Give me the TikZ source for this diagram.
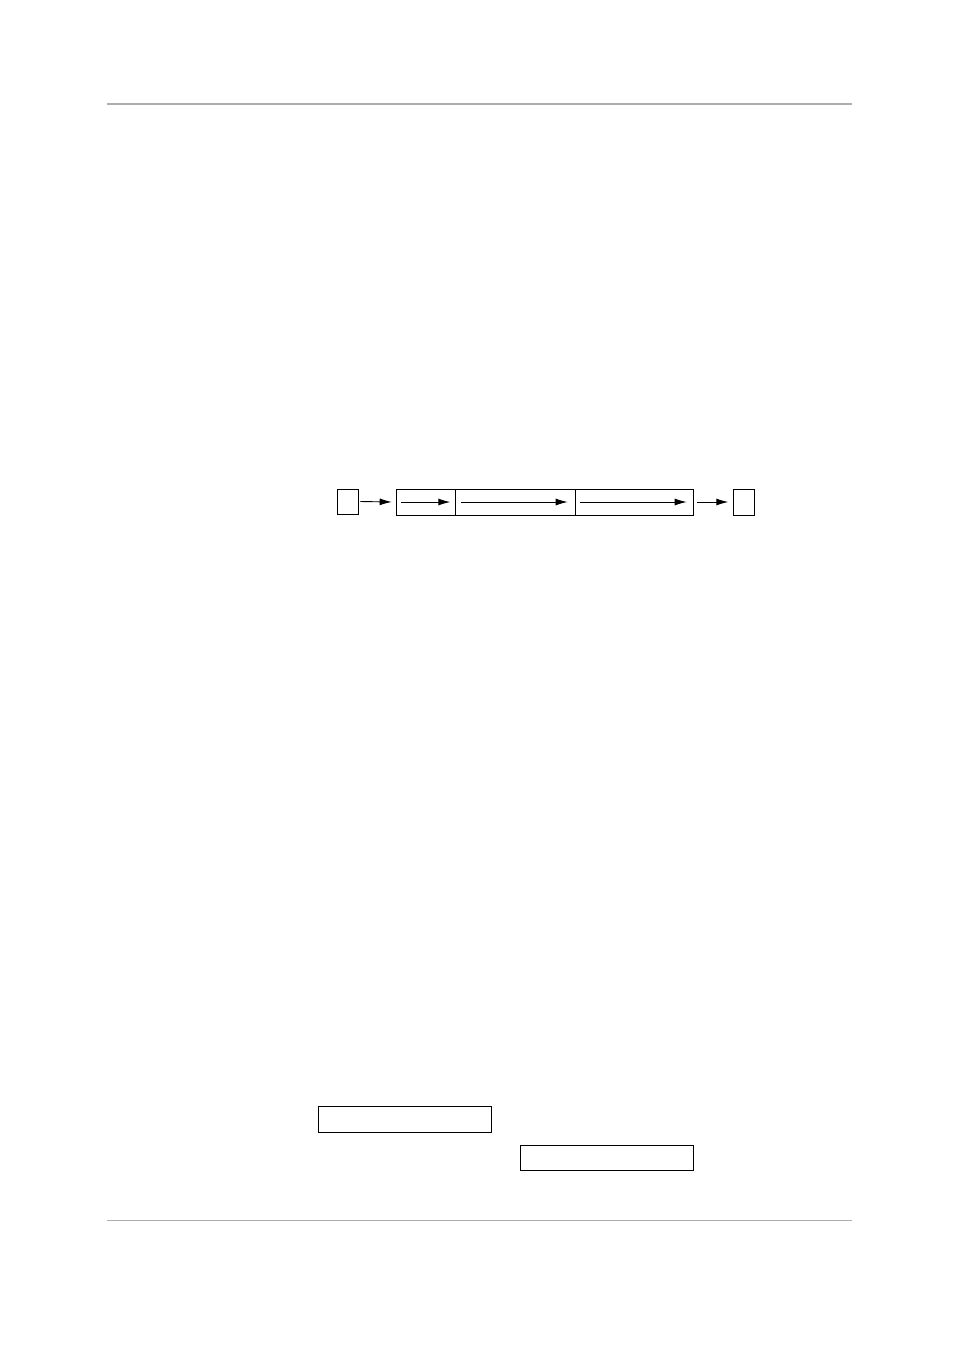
\documentclass[tikz,border=0pt]{standalone}
\usetikzlibrary{arrows.meta}
\begin{document}
\begin{tikzpicture}[x=1pt,y=-1pt,
  rule/.style={draw=black!32,line width=1.1pt},
  cell/.style={draw=black,line width=0.9pt,inner sep=0pt,outer sep=0pt,anchor=north west},
  arr/.style={draw=black,line width=0.9pt,-{Latex[length=12pt,width=7pt]}}]
\useasboundingbox (0,0) rectangle (954,1350);
% header / footer rules
\coordinate (tl) at (106.5,104);
\coordinate (tr) at (852,104);
\coordinate (bl) at (106.5,1220.3);
\coordinate (br) at (852,1220.3);
\draw[rule] (tl) -- (tr);
\draw[rule] (bl) -- (br);
% chain
\node[cell,minimum width=21pt,minimum height=25pt] (s1) at (337.3,489) {};
\node[cell,minimum width=58.6pt,minimum height=26pt] (c1) at (396.7,489) {};
\node[cell,minimum width=119.7pt,minimum height=26pt] (c2) at (455.3,489) {};
\node[cell,minimum width=118.3pt,minimum height=26pt] (c3) at (575,489) {};
\node[cell,minimum width=21pt,minimum height=26pt] (s2) at (733.3,489) {};
\draw[arr] ([xshift=2pt]s1.east) -- ([xshift=-5pt]c1.west);
\draw[arr] ([xshift=4.3pt]c1.west) -- ([xshift=-5pt]c1.east);
\draw[arr] ([xshift=5.7pt]c2.west) -- ([xshift=-7.3pt]c2.east);
\draw[arr] ([xshift=5pt]c3.west) -- ([xshift=-6.6pt]c3.east);
\draw[arr] ([xshift=3.4pt]c3.east) -- ([xshift=-5pt]s2.west);
% bottom boxes
\node[cell,minimum width=173.4pt,minimum height=26.3pt] (b1) at (318.3,1106) {};
\node[cell,minimum width=173.3pt,minimum height=24.3pt] (b2) at (520,1145.7) {};
\end{tikzpicture}
\end{document}
